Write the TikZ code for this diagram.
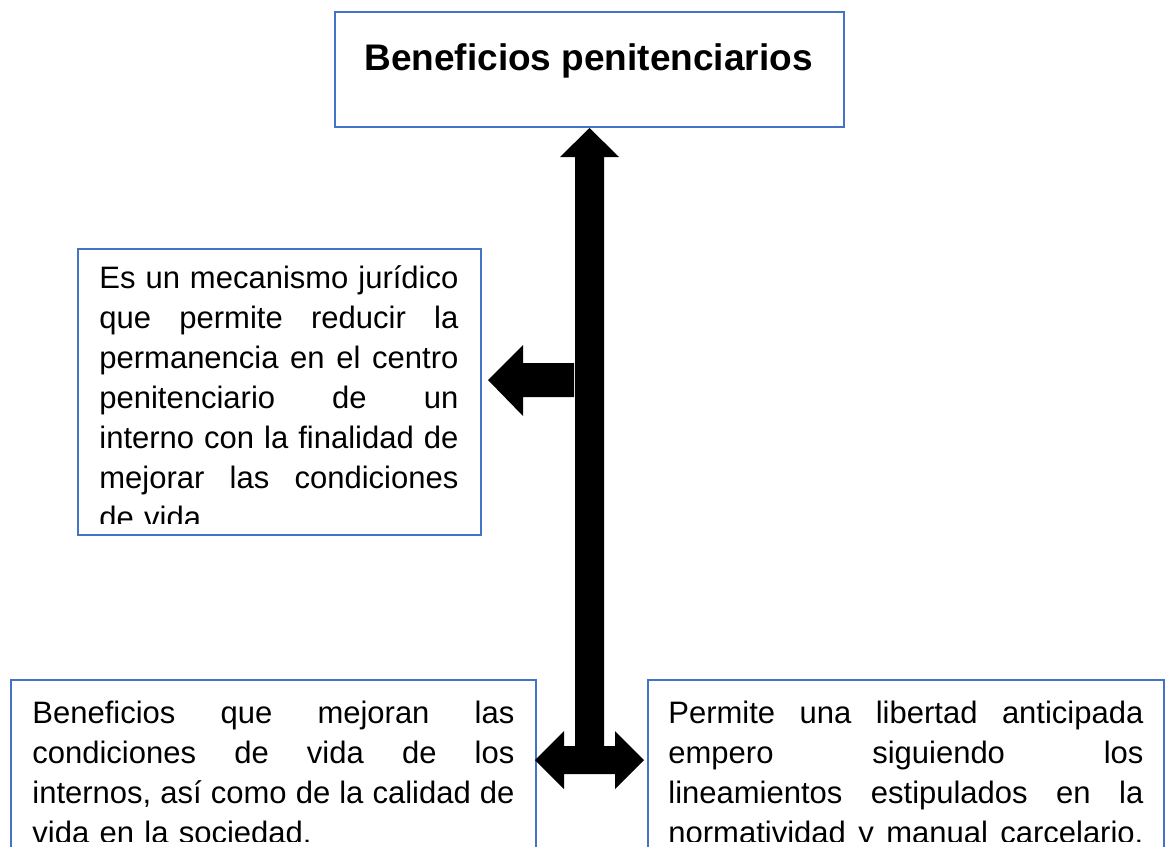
\documentclass[tikz,border=0pt]{standalone}
\usepackage{fontspec}
\setmainfont{Liberation Sans}
\definecolor{boxblue}{HTML}{4472C4}
\newcommand{\jl}[1]{\makebox[\hsize][s]{\spaceskip=0pt\xspaceskip=0pt #1}}
\begin{document}
\begin{tikzpicture}[x=0.5pt,y=-0.5pt,
  box/.style={draw=boxblue, line width=1pt, inner sep=0pt, anchor=north west},
  body/.style={inner sep=0pt, anchor=base west, font=\fontsize{15.5}{20}\selectfont, align=left},
  blockarrow/.style={fill=black, draw=none}]
\useasboundingbox (0,0) rectangle (1165,846);
\fill[white] (0,0) rectangle (1165,846);

% boxes
\node[box, minimum width=254.5pt, minimum height=57.5pt] (top) at (334,11) {};
\node[font=\fontsize{18.5}{22}\selectfont\bfseries, anchor=base, inner sep=0pt] (title) at (588.5,70) {Beneficios penitenciarios};

\node[box, minimum width=201.5pt, minimum height=143pt] (def) at (77,248) {};
\begin{scope}
\clip (78,249) rectangle (479,523);
\node[body, text width=179.5pt] (deftext) at (99,288) {%
\jl{Es un mecanismo jurídico}\\
\jl{que permite reducir la}\\
\jl{permanencia en el centro}\\
\jl{penitenciario de un}\\
\jl{interno con la finalidad de}\\
\jl{mejorar las condiciones}\\
de vida.};
\end{scope}

\node[box, minimum width=262.5pt, minimum height=100pt] (ben) at (10,679) {};
\begin{scope}
\clip (11,680) rectangle (534,841);
\node[body, text width=241pt] (bentext) at (32,723) {%
\jl{Beneficios que mejoran las}\\
\jl{condiciones de vida de los}\\
\jl{internos, así como de la calidad de}\\
vida en la sociedad.};
\end{scope}

\node[box, minimum width=258pt, minimum height=100pt] (lib) at (647,679) {};
\begin{scope}
\clip (648,680) rectangle (1162,841);
\node[body, text width=237.5pt] (libtext) at (668,723) {%
\jl{Permite una libertad anticipada}\\
\jl{empero siguiendo los}\\
\jl{lineamientos estipulados en la}\\
\jl{normatividad y manual carcelario.}};
\end{scope}

% block arrows
\fill[blockarrow] (top.south) -- ++(29.5,29) -- ++(-15,0) -- ++(0,589)
  -- ++(11,0) -- ++(0,-15) -- ++(29,29) -- ++(-29,29) -- ++(0,-15)
  -- ++(-51,0) -- ++(0,15) -- ++(-29,-29) -- ++(29,-29) -- ++(0,15)
  -- ++(11,0) -- ++(0,-589) -- ++(-15,0) -- cycle;
\fill[blockarrow] (574,363) -- (523,363) -- (523,345) -- (488,380)
  -- (523,416) -- (523,397) -- (574,397) -- cycle;
\end{tikzpicture}
\end{document}
